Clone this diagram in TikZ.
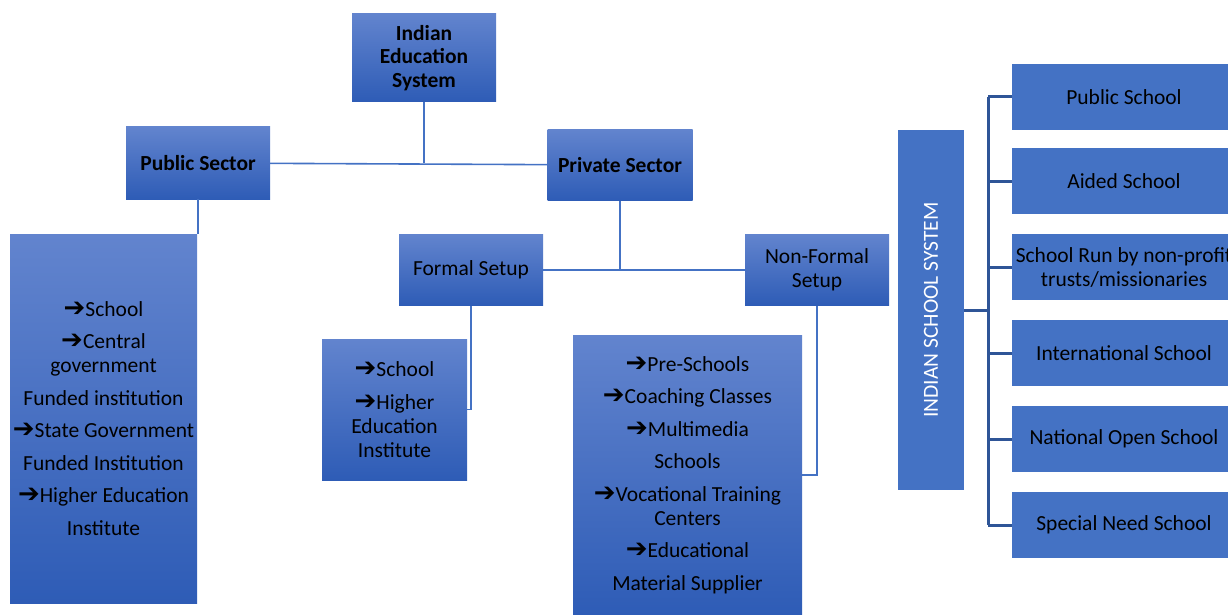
\documentclass[tikz,border=0pt]{standalone}
\usepackage{fontspec}
\setmainfont{Carlito}
\newfontfamily\arrowfont{DejaVu Sans}
\usetikzlibrary{positioning,calc}
\definecolor{edublue}{HTML}{4472C4}
\definecolor{edutop}{HTML}{6284CE}
\definecolor{edubot}{HTML}{2E5CB6}
\definecolor{edudark}{HTML}{2F5597}
\newcommand{\itm}{{\arrowfont\bfseries\fontsize{26}{24}\selectfont\char"2794}}
\tikzset{
    box/.style={top color=edutop,bottom color=edubot,align=center,inner sep=2pt,
        font=\fontsize{21.5}{24}\selectfont},
    head/.style={box,font=\fontsize{21.5}{23.5}\selectfont\bfseries},
    flat/.style={fill=edublue,align=center,inner sep=2pt,
        minimum width=224pt,minimum height=66pt,font=\fontsize{21.5}{24}\selectfont},
    link/.style={draw=edublue,line width=1.6pt},
    bracket/.style={draw=edudark,line width=3pt},
}

\begin{document}
\begin{tikzpicture}[x=1pt,y=-1pt]
    \useasboundingbox (0,0) rectangle (1228,615);

    % top of the tree
    \node[head,minimum width=144pt,minimum height=88pt] (ies) at (424,58) {Indian\\Education\\System};
    \node[head,minimum width=144pt,minimum height=72pt] (pubsec) at (198,163) {Public Sector};
    \node[head,minimum width=145pt,minimum height=71pt] (privsec) at (620,165) {Private Sector};

    \node[box,minimum width=187pt,minimum height=369pt] (publist) at (103.5,418.5)
        {\itm School\\[8.5pt]\itm Central\\government\\[8.5pt]Funded institution\\[8.5pt]%
         \itm State Government\\[8.5pt]Funded Institution\\[8.5pt]\itm Higher Education\\[8.5pt]Institute};

    % private sector
    \node[box,minimum width=144pt,minimum height=71pt] (formal) at (471,270) {Formal Setup};
    \node[box,minimum width=144pt,minimum height=71pt] (nonformal) at (817,270) {Non-Formal\\Setup};
    \node[box,minimum width=145pt,minimum height=141pt] (formlist) at (394.5,409.5)
        {\itm School\\[8.5pt]\itm Higher\\Education\\Institute};
    \node[box,minimum width=229pt,minimum height=280pt] (nflist) at (687.5,475)
        {\itm Pre-Schools\\[8.5pt]\itm Coaching Classes\\[8.5pt]\itm Multimedia\\[8.5pt]Schools\\[8.5pt]%
         \itm Vocational Training\\Centers\\[8.5pt]\itm Educational\\[8.5pt]Material Supplier};

    \path[link] (pubsec) -- (privsec);
    \path[link] (ies.south) -- (ies.south |- pubsec.east);
    \path[link] (pubsec.south) -- (pubsec.south |- publist.north);
    \path[link] (formal) -- (nonformal);
    \path[link] (privsec.south) -- (privsec.south |- formal.east);
    \path[link] (formal.south) |- (formlist.east);
    \path[link] (nonformal.south) |- (nflist.east);

    % school system
    \node[fill=edublue,minimum width=66pt,minimum height=360pt,inner sep=0pt] (iss) at (931,310) {};
    \node[text=white,rotate=90,font=\fontsize{21.5}{24}\selectfont] (isslabel) at (iss.center) {INDIAN SCHOOL SYSTEM};

    \node[flat] (ps1) at (1124,97) {Public School};
    \node[flat] (ps2) at (1124,181) {Aided School};
    \node[flat] (ps3) at (1124,267) {School Run by non-profit\\trusts/missionaries};
    \node[flat] (ps4) at (1124,353) {International School};
    \node[flat] (ps5) at (1124,439) {National Open School};
    \node[flat] (ps6) at (1124,525) {Special Need School};

    \coordinate (spine) at (988,310);
    \path[bracket] (spine |- ps1.west) -- (spine |- ps6.west);
    \path[bracket] (iss.east) -- (spine);
    \foreach \k in {1,...,6}
        \path[bracket] (spine |- ps\k.west) -- (ps\k.west);
\end{tikzpicture}
\end{document}
